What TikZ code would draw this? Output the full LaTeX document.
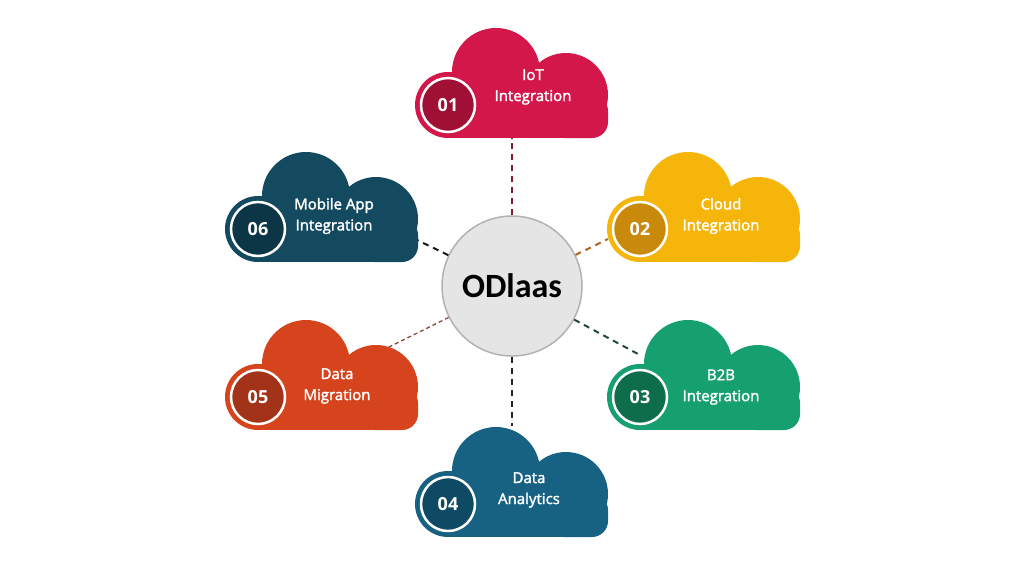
\documentclass[tikz,border=0pt]{standalone}
\usepackage{fontspec}
\setmainfont{Open Sans}
\newfontfamily\titlefont{Carlito}
\newfontfamily\labelfont[FakeBold=2]{Open Sans}
\definecolor{cA}{HTML}{D4174A}\definecolor{bA}{HTML}{A01034}\definecolor{lA}{HTML}{7B1E2E}
\definecolor{cB}{HTML}{F5B50A}\definecolor{bB}{HTML}{C98A0B}\definecolor{lB}{HTML}{B5651D}
\definecolor{cC}{HTML}{16A06F}\definecolor{bC}{HTML}{0E6E4C}\definecolor{lC}{HTML}{1F4A3D}
\definecolor{cD}{HTML}{176283}\definecolor{bD}{HTML}{0E4A63}\definecolor{lD}{HTML}{222222}
\definecolor{cE}{HTML}{D6441D}\definecolor{bE}{HTML}{A23218}\definecolor{lE}{HTML}{8E4B3B}
\definecolor{cF}{HTML}{134A5F}\definecolor{bF}{HTML}{0C3546}\definecolor{lF}{HTML}{1A1A1A}
\newcommand\mycloud[3]{%
  \begin{scope}[shift={(#1,#2)}]
    \fill[#3] (0,0) circle[radius=33pt];
    \fill[#3] (48,-33) circle[radius=44pt];
    \fill[#3] (118,-10) circle[radius=42pt];
    \fill[#3] (0,-10) rectangle (144,33);
    \fill[#3] (30,-33) rectangle (100,0);
    \fill[#3, rounded corners=16pt] (100,-10) rectangle (160,33);
  \end{scope}}
\tikzset{
  badge/.style={circle, draw=white, line width=2.5pt, minimum size=54pt, inner sep=0pt,
    text=white, font=\fontsize{18}{20}\selectfont\bfseries},
  label/.style={text=white, align=center, font=\labelfont\fontsize{15}{21}\selectfont},
  link/.style={dashed, dash pattern=on 6pt off 5pt, line width=2pt},
  hub/.style={circle, fill=black!10, draw=black!30, line width=1.5pt, minimum size=140pt,
    font=\titlefont\fontsize{34}{36}\selectfont\bfseries}
}
\begin{document}
\begin{tikzpicture}[x=1pt,y=-1pt]
\useasboundingbox[fill=white] (0,0) rectangle (1024,576);
\node[hub] (ctr) at (512,286) {ODlaas};
\coordinate (e1) at (512,138);
\coordinate (e2) at (608,239);
\coordinate (e3) at (638,354);
\coordinate (e4) at (512,426);
\coordinate (e5) at (387,348);
\coordinate (e6) at (417,240);
\draw[link, lA] (ctr) -- (e1);
\draw[link, lB] (ctr) -- (e2);
\draw[link, lC] (ctr) -- (e3);
\draw[link, lD] (ctr) -- (e4);
\draw[link, lE, line width=1.3pt, dash pattern=on 4pt off 3pt] (ctr) -- (e5);
\draw[link, lF] (ctr) -- (e6);
\mycloud{448}{105}{cA}
\mycloud{640}{229}{cB}
\mycloud{640}{397}{cC}
\mycloud{448}{504}{cD}
\mycloud{258}{397}{cE}
\mycloud{258}{229}{cF}
\node[badge, fill=bA] (b1) at (448,105) {01};
\node[badge, fill=bB] (b2) at (640,229) {02};
\node[badge, fill=bC] (b3) at (640,397) {03};
\node[badge, fill=bD] (b4) at (448,504) {04};
\node[badge, fill=bE] (b5) at (258,397) {05};
\node[badge, fill=bF] (b6) at (258,229) {06};
\node[label] (t1) at (533,87) {IoT\\Integration};
\node[label] (t2) at (721,216) {Cloud\\Integration};
\node[label] (t3) at (721,387) {B2B\\Integration};
\node[label] (t4) at (529,490) {Data\\Analytics};
\node[label] (t5) at (337,386) {Data\\Migration};
\node[label] (t6) at (334,216) {Mobile App\\Integration};
\end{tikzpicture}
\end{document}
